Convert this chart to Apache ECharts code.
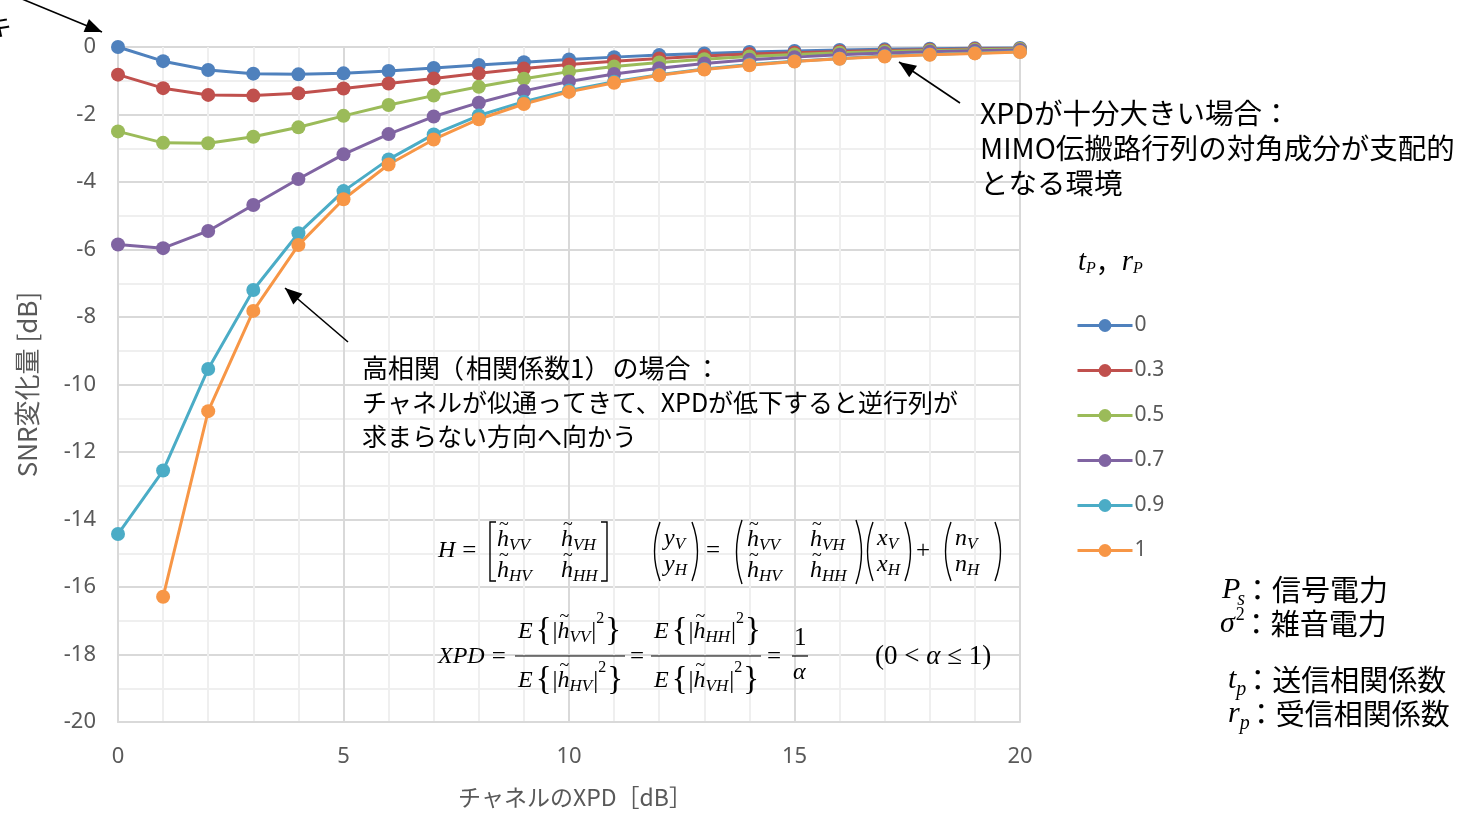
<!DOCTYPE html>
<html><head><meta charset="utf-8">
<script src="https://cdn.jsdelivr.net/npm/echarts@6/dist/echarts.min.js"></script>
<style>html,body{margin:0;padding:0;background:#fff}#c{width:1465px;height:814px}</style>
</head><body><div id="c"></div>
<script>
const xpd = [0,1,2,3,4,5,6,7,8,9,10,11,12,13,14,15,16,17,18,19,20];
const seriesNames = ['0','0.3','0.5','0.7','0.9','1'];
const s0   = [0,-0.42,-0.68,-0.79,-0.81,-0.78,-0.71,-0.62,-0.53,-0.45,-0.37,-0.30,-0.24,-0.19,-0.15,-0.12,-0.09,-0.07,-0.05,-0.04,-0.03];
const s03  = [-0.82,-1.22,-1.42,-1.44,-1.37,-1.23,-1.08,-0.93,-0.78,-0.64,-0.52,-0.42,-0.34,-0.27,-0.21,-0.17,-0.13,-0.10,-0.08,-0.06,-0.05];
const s05  = [-2.50,-2.84,-2.85,-2.66,-2.38,-2.04,-1.72,-1.44,-1.18,-0.94,-0.73,-0.58,-0.46,-0.36,-0.28,-0.22,-0.17,-0.13,-0.10,-0.08,-0.06];
const s07  = [-5.85,-5.96,-5.45,-4.68,-3.91,-3.18,-2.58,-2.06,-1.65,-1.30,-1.02,-0.80,-0.63,-0.49,-0.38,-0.30,-0.23,-0.18,-0.14,-0.11,-0.09];
const s09  = [-14.43,-12.55,-9.54,-7.20,-5.52,-4.27,-3.33,-2.59,-2.03,-1.62,-1.29,-1.03,-0.82,-0.65,-0.52,-0.42,-0.34,-0.27,-0.22,-0.18,-0.14];
const s1   = [null,-16.29,-10.79,-7.82,-5.87,-4.51,-3.48,-2.74,-2.14,-1.69,-1.33,-1.06,-0.84,-0.67,-0.54,-0.43,-0.35,-0.28,-0.23,-0.19,-0.15];
const allSeries = [s0,s03,s05,s07,s09,s1];
const colors = ['#4F81BD','#C0504D','#9BBB59','#8064A2','#4BACC6','#F79646'];
const xTicks = [0,5,10,15,20];
const yTicks = [0,-2,-4,-6,-8,-10,-12,-14,-16,-18,-20];

const JP = '"Noto Sans CJK JP", sans-serif';
const SER = '"Liberation Serif", "DejaVu Serif", serif';
const MI = 'italic 24px ' + SER, MR = '25px ' + SER, SUB = 'italic 17px ' + SER, SUP = '16px ' + SER;
const TIL = '18px ' + SER, BR = '33px ' + SER;

const mctx = document.createElement('canvas').getContext('2d');
function W(s,f){ mctx.font = f; return mctx.measureText(s).width; }
function T(x,y,text,font,opt){ return {type:'text', x:x, y:y, silent:true, z:100,
  style:Object.assign({text:text, font:font, fill:'#000', align:'left', verticalAlign:'middle'}, opt||{})}; }
const G = [];
function seq(x,y,toks){
  let px = x;
  for (const k of toks){
    if (k.over){ G.push(T(px+(k.ox||0), y+(k.dy||0), k.s, k.f)); continue; }
    const xx = x + (k.dx||0);
    G.push(T(xx, y+(k.dy||0), k.s, k.f));
    px = xx; x = xx + W(k.s,k.f);
  }
  return x;
}
function h(sub){ return [{s:'h',f:MI},{s:'~',f:TIL,over:true,ox:2,dy:-15},{s:sub,f:SUB,dy:6}]; }
function line(x1,y1,x2,y2,w){ G.push({type:'line', silent:true, z:100, shape:{x1,y1,x2,y2}, style:{stroke:'#000', lineWidth:w||1.2}}); }
function brack(x,top,bot,dir){ G.push({type:'polyline', silent:true, z:100, shape:{points:[[x+6*dir,top],[x,top],[x,bot],[x+6*dir,bot]]}, style:{stroke:'#000', lineWidth:1.4, fill:null}}); }
function paren(x,top,bot,dir){ G.push({type:'bezierCurve', silent:true, z:100, shape:{x1:x,y1:top,x2:x,y2:bot,cpx1:x-11*dir,cpy1:(top+bot)/2}, style:{stroke:'#000', lineWidth:1.4, fill:null}}); }
function arrow(x1,y1,x2,y2){
  line(x1,y1,x2,y2,1.6);
  const a = Math.atan2(y2-y1,x2-x1), L=17, Wd=7;
  const bx = x2 - L*Math.cos(a), by = y2 - L*Math.sin(a);
  G.push({type:'polygon', silent:true, z:100, shape:{points:[[x2,y2],[bx+Wd*Math.sin(a),by-Wd*Math.cos(a)],[bx-Wd*Math.sin(a),by+Wd*Math.cos(a)]]}, style:{fill:'#000'}});
}
function expect(x,y,sub){
  return seq(x,y,[{s:'E',f:MI},{s:'{',f:BR,dx:3,dy:-1},{s:'|',f:MR,dx:1},...h(sub),{s:'|',f:MR,dx:1},{s:'2',f:SUP,dy:-13},{s:'}',f:BR,dx:1,dy:-1}]);
}

// Row 1: H matrix and system
seq(438,551,[{s:'H',f:MI},{s:'=',f:MR,dx:7}]);
brack(490,522,581,1);
seq(497,540,h('VV')); seq(561,540,h('VH'));
seq(497,571,h('HV')); seq(561,571,h('HH'));
brack(607,522,581,-1);
paren(660,522,581,1);
seq(664,539,[{s:'y',f:MI},{s:'V',f:SUB,dy:6}]);
seq(664,565,[{s:'y',f:MI},{s:'H',f:SUB,dy:6}]);
paren(692,522,581,-1);
seq(706,551,[{s:'=',f:MR}]);
paren(742,520,584,1);
seq(747,540,h('VV')); seq(810,540,h('VH'));
seq(747,571,h('HV')); seq(810,571,h('HH'));
paren(856,520,584,-1);
paren(873,522,581,1);
seq(877,539,[{s:'x',f:MI},{s:'V',f:SUB,dy:6}]);
seq(877,565,[{s:'x',f:MI},{s:'H',f:SUB,dy:6}]);
paren(905,522,581,-1);
seq(916,551,[{s:'+',f:MR}]);
paren(951,522,581,1);
seq(955,539,[{s:'n',f:MI},{s:'V',f:SUB,dy:6}]);
seq(955,565,[{s:'n',f:MI},{s:'H',f:SUB,dy:6}]);
paren(995,522,581,-1);

// Row 2: XPD definition
seq(438,657,[{s:'XPD',f:MI},{s:'=',f:MR,dx:7}]);
expect(518,632,'VV'); expect(518,681,'HV'); line(515,656,625,656,1.2);
seq(630,657,[{s:'=',f:MR}]);
expect(654,632,'HH'); expect(654,681,'VH'); line(651,656,761,656,1.2);
seq(767,657,[{s:'=',f:MR}]);
seq(794,638,[{s:'1',f:MR}]); seq(793,673,[{s:'α',f:MI}]); line(792,656,808,656,1.2);
seq(875,657,[{s:'(0 < ',f:'27px '+SER},{s:'α',f:'italic 27px '+SER},{s:' ≤ 1)',f:'27px '+SER}]);

// Annotations
const AN = '25px ' + JP, AN1 = '26px ' + JP;
seq(362,368,[{s:'高相関',f:AN1},{s:'（',f:AN1,dx:-2},{s:'相関係数1',f:AN1,dx:2},{s:'）',f:AN1,dx:0},{s:'の場合',f:AN1,dx:2},{s:'：',f:AN1,dx:4}]);
G.push(T(362,402,'チャネルが似通ってきて、XPDが低下すると逆行列が',AN));
G.push(T(362,436,'求まらない方向へ向かう',AN));
const AN2 = '28.5px ' + JP;
['XPDが十分大きい場合：','MIMO伝搬路行列の対角成分が支配的','となる環境'].forEach((s,i)=>G.push(T(980,113+i*35,s,AN2)));
arrow(348,342,285,288);
arrow(960,103,899,62);
arrow(5,-8,102,32);
G.push(T(-14,26,'キ','26px ' + JP));

// Legend title
seq(1078,262,[{s:'t',f:'italic 29px '+SER},{s:'P',f:'italic 16px '+SER,dy:7},{s:'，',f:'26px '+JP},{s:'r',f:'italic 29px '+SER},{s:'P',f:'italic 16px '+SER,dy:7}]);

// Bottom right notes
const NB = '29px ' + JP, NI = 'italic 30px ' + SER;
seq(1222,590,[{s:'P',f:NI},{s:'s',f:'italic 20px '+SER,dy:10,dx:-3},{s:'：信号電力',f:NB,dx:-2}]);
seq(1220,624,[{s:'σ',f:NI},{s:'2',f:'18px '+SER,dy:-9,dx:1},{s:'：雑音電力',f:NB,dx:-3}]);
seq(1228,680,[{s:'t',f:NI},{s:'p',f:'italic 20px '+SER,dy:10},{s:'：送信相関係数',f:NB,dx:-3}]);
seq(1228,714,[{s:'r',f:NI},{s:'p',f:'italic 20px '+SER,dy:10},{s:'：受信相関係数',f:NB,dx:-3}]);

const chart = echarts.init(document.getElementById('c'));
chart.setOption({
  animation:false,
  backgroundColor:'#fff',
  grid:{left:118, top:47, right:445, bottom:92, containLabel:false},
  xAxis:{type:'value', min:xTicks[0], max:xTicks[xTicks.length-1], interval:5,
    name:'チャネルのXPD［dB］', nameLocation:'middle', nameGap:64,
    nameTextStyle:{color:'#595959', fontSize:23, fontFamily:JP, padding:[0,0,0,12]},
    axisLine:{show:true, onZero:false, lineStyle:{color:'#D9D9D9', width:2}},
    axisTick:{show:false},
    axisLabel:{color:'#595959', fontSize:22, margin:24, fontFamily:'"Noto Sans", sans-serif'},
    splitLine:{show:true, lineStyle:{color:'#D9D9D9', width:2}},
    minorTick:{show:false, splitNumber:5},
    minorSplitLine:{show:true, lineStyle:{color:'#EFEFEF', width:2}}},
  yAxis:{type:'value', min:yTicks[yTicks.length-1], max:yTicks[0], interval:2,
    name:'SNR変化量 [dB]', nameLocation:'middle', nameGap:78,
    nameTextStyle:{color:'#595959', fontSize:26, fontFamily:JP},
    axisLine:{show:true, onZero:false, lineStyle:{color:'#D9D9D9', width:2}},
    axisTick:{show:false},
    axisLabel:{color:'#595959', fontSize:22, margin:22, fontFamily:'"Noto Sans", sans-serif'},
    splitLine:{show:true, lineStyle:{color:'#D9D9D9', width:2}},
    minorTick:{show:false, splitNumber:2},
    minorSplitLine:{show:true, lineStyle:{color:'#EFEFEF', width:2}}},
  legend:{orient:'vertical', left:1076, top:315, padding:0, itemWidth:55, itemHeight:16, itemGap:24,
    lineStyle:{width:3},
    data:seriesNames, textStyle:{color:'#595959', fontSize:21, fontFamily:'"Noto Sans", sans-serif', padding:[0,0,0,-3]}},
  series: allSeries.map((arr,i)=>({
    name:seriesNames[i], type:'line', symbol:'circle', symbolSize:14,
    itemStyle:{color:colors[i]}, lineStyle:{color:colors[i], width:3},
    data: xpd.map((x,j)=>arr[j]===null?null:[x,arr[j]]).filter(d=>d!==null)
  })),
  graphic: G
});
</script>
</body></html>
